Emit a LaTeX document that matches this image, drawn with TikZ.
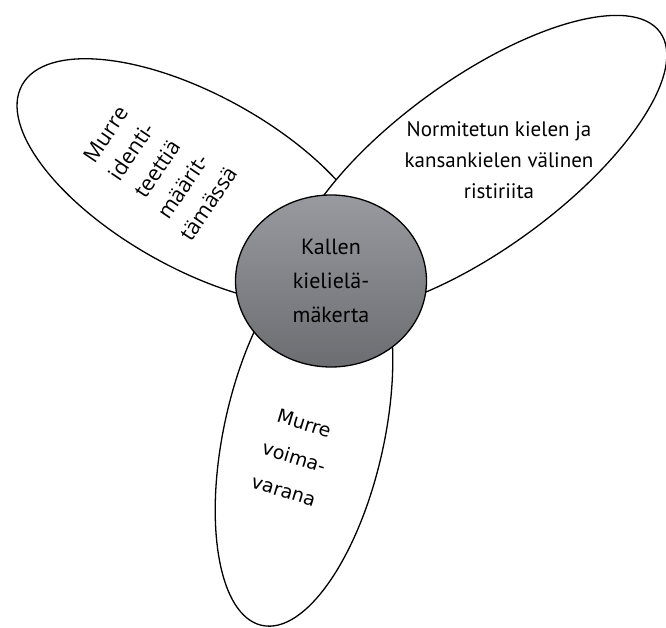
\documentclass[tikz,border=0pt]{standalone}
\usepackage{fontspec}
\setmainfont{PT Sans}
\newfontfamily\leftfont{Open Sans}
\newfontfamily\dejavu{DejaVu Sans}
\usetikzlibrary{shapes.geometric}
\definecolor{hubtop}{RGB}{152,154,159}
\definecolor{hubbot}{RGB}{108,109,113}
\begin{document}
\begin{tikzpicture}[x=1pt,y=1pt,
  petal/.style={ellipse, draw=black, line width=1.3pt, fill=white, inner sep=0pt},
  hub/.style={ellipse, draw=black, line width=1.3pt, top color=hubtop, bottom color=hubbot, inner sep=0pt, align=center},
  lbl/.style={align=center, text=black, inner sep=0pt}]
\useasboundingbox (0,0) rectangle (666,627);
\node[petal, minimum width=400pt, minimum height=174pt, rotate=-29] (identity) at (197,445) {};
\node[petal, minimum width=160pt, minimum height=390pt, rotate=-12.5] (power) at (304,192) {};
\node[petal, minimum width=450pt, minimum height=170pt, rotate=36] (conflict) at (478,462.5) {};
\node[hub, minimum width=191pt, minimum height=172pt, font=\fontsize{22}{34}\selectfont] (kalle) at (331,346) {Kallen\\kielielä-\\mäkerta};
\node[lbl, font=\fontsize{21}{31}\selectfont] (conflicttext) at (499,467) {Normitetun kielen ja\\kansankielen välinen\\ristiriita};
\node[lbl, rotate=56, font=\leftfont\fontsize{21.5}{31}\selectfont] (identitytext) at (157,458) {Murre\\identi-\\teettiä\\määrit-\\tämässä};
\node[lbl, rotate=-17, font=\dejavu\fontsize{19}{35}\selectfont] (powertext) at (294,170) {Murre\\voima-\\varana};
\end{tikzpicture}
\end{document}
